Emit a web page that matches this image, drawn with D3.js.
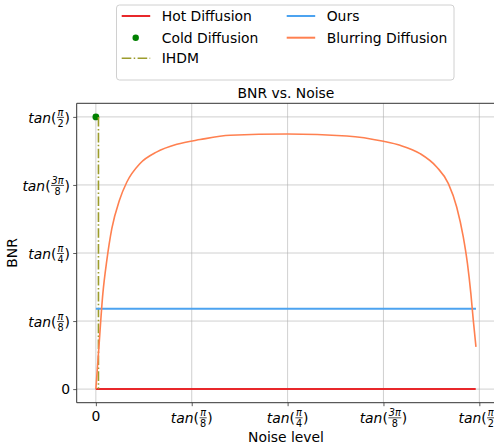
<!DOCTYPE html>
<html>
<head>
<meta charset="utf-8">
<script src="https://cdn.jsdelivr.net/npm/d3@7"></script>
<style>
  body { margin: 0; background: #fff; }
  text { font-family: "DejaVu Sans", sans-serif; fill: #000; }
</style>
</head>
<body>
<script>
// values are plotted in arctan space (angle, radians)
var PI = Math.PI;
var tickVals = [0, PI / 8, PI / 4, 3 * PI / 8, PI / 2];
var tickNums = [null, "π", "π", "3π", "π"];
var tickDens = [null, "8", "4", "8", "2"];

var hotX = [0, 1.556];
var hotY = [0, 0];
var coldX = [0];
var coldY = [PI / 2];
var ihdmX = [0.0106, 0.0106];
var ihdmY = [PI / 2, 0];
var oursX = [0, 1.557];
var oursY = [0.4636, 0.4636];
var blurX = [0, 0.0106, 0.0287, 0.045, 0.0655, 0.0966, 0.127, 0.181, 0.250, 0.332, 0.427, 0.550, 0.785,
  1.028, 1.178, 1.246, 1.328, 1.396, 1.444, 1.478, 1.505, 1.522, 1.536, 1.546, 1.557];
var blurY = [0, 0.206, 0.552, 0.744, 0.927, 1.090, 1.195, 1.302, 1.369, 1.413, 1.440, 1.465, 1.472,
  1.461, 1.430, 1.407, 1.359, 1.282, 1.186, 1.051, 0.878, 0.725, 0.552, 0.398, 0.244];

var width = 494, height = 444;

var svg = d3.select("body").append("svg")
    .attr("width", width)
    .attr("height", height);

var x = d3.scaleLinear().domain([-0.0785, 1.6493]).range([76.7, 498.5]);
var y = d3.scaleLinear().domain([-0.0785, 1.6493]).range([402.7, 103.3]);

// grid + ticks
var gx = svg.append("g")
    .attr("transform", "translate(0," + y.range()[0] + ")")
    .call(d3.axisBottom(x).tickValues(tickVals).tickSize(3.5).tickFormat(""));
gx.select(".domain").remove();
gx.selectAll(".tick line").attr("stroke", "#333").attr("stroke-width", 0.8);

var gy = svg.append("g")
    .attr("transform", "translate(" + x.range()[0] + ",0)")
    .call(d3.axisLeft(y).tickValues(tickVals).tickSize(3.5).tickFormat(""));
gy.select(".domain").remove();
gy.selectAll(".tick line").attr("stroke", "#333").attr("stroke-width", 0.8);

svg.append("g").selectAll("line").data(tickVals).enter().append("line")
    .attr("x1", (d) => x(d)).attr("x2", (d) => x(d))
    .attr("y1", y.range()[1]).attr("y2", y.range()[0])
    .attr("stroke", "#b0b0b0").attr("stroke-opacity", 0.6).attr("stroke-width", 1);
svg.append("g").selectAll("line").data(tickVals).enter().append("line")
    .attr("y1", (d) => y(d)).attr("y2", (d) => y(d))
    .attr("x1", x.range()[0]).attr("x2", x.range()[1])
    .attr("stroke", "#b0b0b0").attr("stroke-opacity", 0.6).attr("stroke-width", 1);

// tick labels like tan(π/8)
function mathLabel(parent, i, px, baseline, anchor) {
    var g = parent.append("g");
    if (!tickNums[i]) {
        g.append("text").attr("x", px).attr("y", baseline)
            .attr("text-anchor", anchor).attr("font-size", "13.9px").text("0");
        return;
    }
    var t1 = g.append("text").attr("y", baseline).attr("font-size", "13.9px");
    t1.append("tspan").attr("font-style", "italic").text("tan");
    t1.append("tspan").text("(");
    var w1 = t1.node().getComputedTextLength();
    var num = g.append("text").attr("font-size", "9.7px").attr("font-style", "italic")
        .attr("text-anchor", "middle").text(tickNums[i]);
    var den = g.append("text").attr("font-size", "9.7px")
        .attr("text-anchor", "middle").text(tickDens[i]);
    var fw = Math.max(num.node().getComputedTextLength(), den.node().getComputedTextLength()) + 2;
    var t3 = g.append("text").attr("y", baseline).attr("font-size", "13.9px").text(")");
    var w3 = t3.node().getComputedTextLength();
    var total = w1 + fw + w3;
    var x0 = anchor === "end" ? px - total : px - total / 2;
    var bar = baseline - 5.5;
    t1.attr("x", x0);
    num.attr("x", x0 + w1 + fw / 2).attr("y", bar - 1.5);
    den.attr("x", x0 + w1 + fw / 2).attr("y", bar + 9.3);
    g.append("line").attr("x1", x0 + w1 + 0.5).attr("x2", x0 + w1 + fw - 0.5)
        .attr("y1", bar).attr("y2", bar).attr("stroke", "#000").attr("stroke-width", 0.7);
    t3.attr("x", x0 + w1 + fw);
}

var labels = svg.append("g");
tickVals.forEach((d, i) => {
    mathLabel(labels, i, 70, y(d) + (tickNums[i] ? 6 : 5), "end");
    mathLabel(labels, i, x(d), tickNums[i] ? 423.3 : 421, "middle");
});

// series
function pts(xs, ys) { return xs.map((v, i) => [v, ys[i]]); }
var line = d3.line().x((d) => x(d[0])).y((d) => y(d[1]));
var smooth = d3.line().x((d) => x(d[0])).y((d) => y(d[1])).curve(d3.curveMonotoneX);

svg.append("path").datum(pts(hotX, hotY)).attr("d", line)
    .attr("fill", "none").attr("stroke", "#e8282b").attr("stroke-width", 2);
svg.selectAll(".cold").data(pts(coldX, coldY)).enter().append("circle")
    .attr("cx", (d) => x(d[0])).attr("cy", (d) => y(d[1])).attr("r", 3.4)
    .attr("fill", "#008000");
svg.append("path").datum(pts(ihdmX, ihdmY)).attr("d", line)
    .attr("fill", "none").attr("stroke", "#9c9c2c").attr("stroke-width", 1.6)
    .attr("stroke-dasharray", "9.6,2.4,1.5,2.4");
svg.append("path").datum(pts(oursX, oursY)).attr("d", line)
    .attr("fill", "none").attr("stroke", "#4ca3f0").attr("stroke-width", 2);
svg.append("path").datum(pts(blurX, blurY)).attr("d", smooth)
    .attr("fill", "none").attr("stroke", "#ff8050").attr("stroke-width", 1.6);

// spines
svg.append("line").attr("x1", x.range()[0]).attr("x2", x.range()[0])
    .attr("y1", y.range()[1]).attr("y2", y.range()[0])
    .attr("stroke", "#333").attr("stroke-width", 1);
svg.append("line").attr("x1", x.range()[0]).attr("x2", x.range()[1])
    .attr("y1", y.range()[0]).attr("y2", y.range()[0])
    .attr("stroke", "#333").attr("stroke-width", 1);
svg.append("line").attr("x1", x.range()[0]).attr("x2", x.range()[1])
    .attr("y1", y.range()[1]).attr("y2", y.range()[1])
    .attr("stroke", "#333").attr("stroke-width", 1);

// titles
svg.append("text").attr("x", 286).attr("y", 97.5).attr("text-anchor", "middle")
    .attr("font-size", "13.9px").text("BNR vs. Noise");
svg.append("text").attr("x", 286).attr("y", 442).attr("text-anchor", "middle")
    .attr("font-size", "13.9px").text("Noise level");
svg.append("text").attr("transform", "translate(17,253) rotate(-90)")
    .attr("text-anchor", "middle").attr("font-size", "13.9px").text("BNR");

// legend
var legend = svg.append("g");
legend.append("rect").attr("x", 116.5).attr("y", 5).attr("width", 337.5).attr("height", 75)
    .attr("rx", 3).attr("fill", "#fff").attr("stroke", "#d0d0d0").attr("stroke-width", 1);
var legItems = [
    {name: "Hot Diffusion", col: 0, row: 0, color: "#e8282b", kind: "line"},
    {name: "Cold Diffusion", col: 0, row: 1, color: "#008000", kind: "dot"},
    {name: "IHDM", col: 0, row: 2, color: "#9c9c2c", kind: "dash"},
    {name: "Ours", col: 1, row: 0, color: "#4ca3f0", kind: "line"},
    {name: "Blurring Diffusion", col: 1, row: 1, color: "#ff8050", kind: "line"}
];
var colX = [121.7, 286.7], rowY = [16, 37.7, 58.3];
legItems.forEach((d) => {
    var lx = colX[d.col], ly = rowY[d.row];
    if (d.kind === "dot") {
        legend.append("circle").attr("cx", lx + 14).attr("cy", ly).attr("r", 3.2).attr("fill", d.color);
    } else {
        var l = legend.append("line").attr("x1", lx).attr("x2", lx + 28.5)
            .attr("y1", ly).attr("y2", ly).attr("stroke", d.color).attr("stroke-width", 2);
        if (d.kind === "dash") l.attr("stroke-dasharray", "9.6,2.4,1.5,2.4").attr("stroke-width", 1.6);
    }
    legend.append("text").attr("x", lx + 40).attr("y", ly + 5)
        .attr("font-size", "13.9px").text(d.name);
});
</script>
</body>
</html>
